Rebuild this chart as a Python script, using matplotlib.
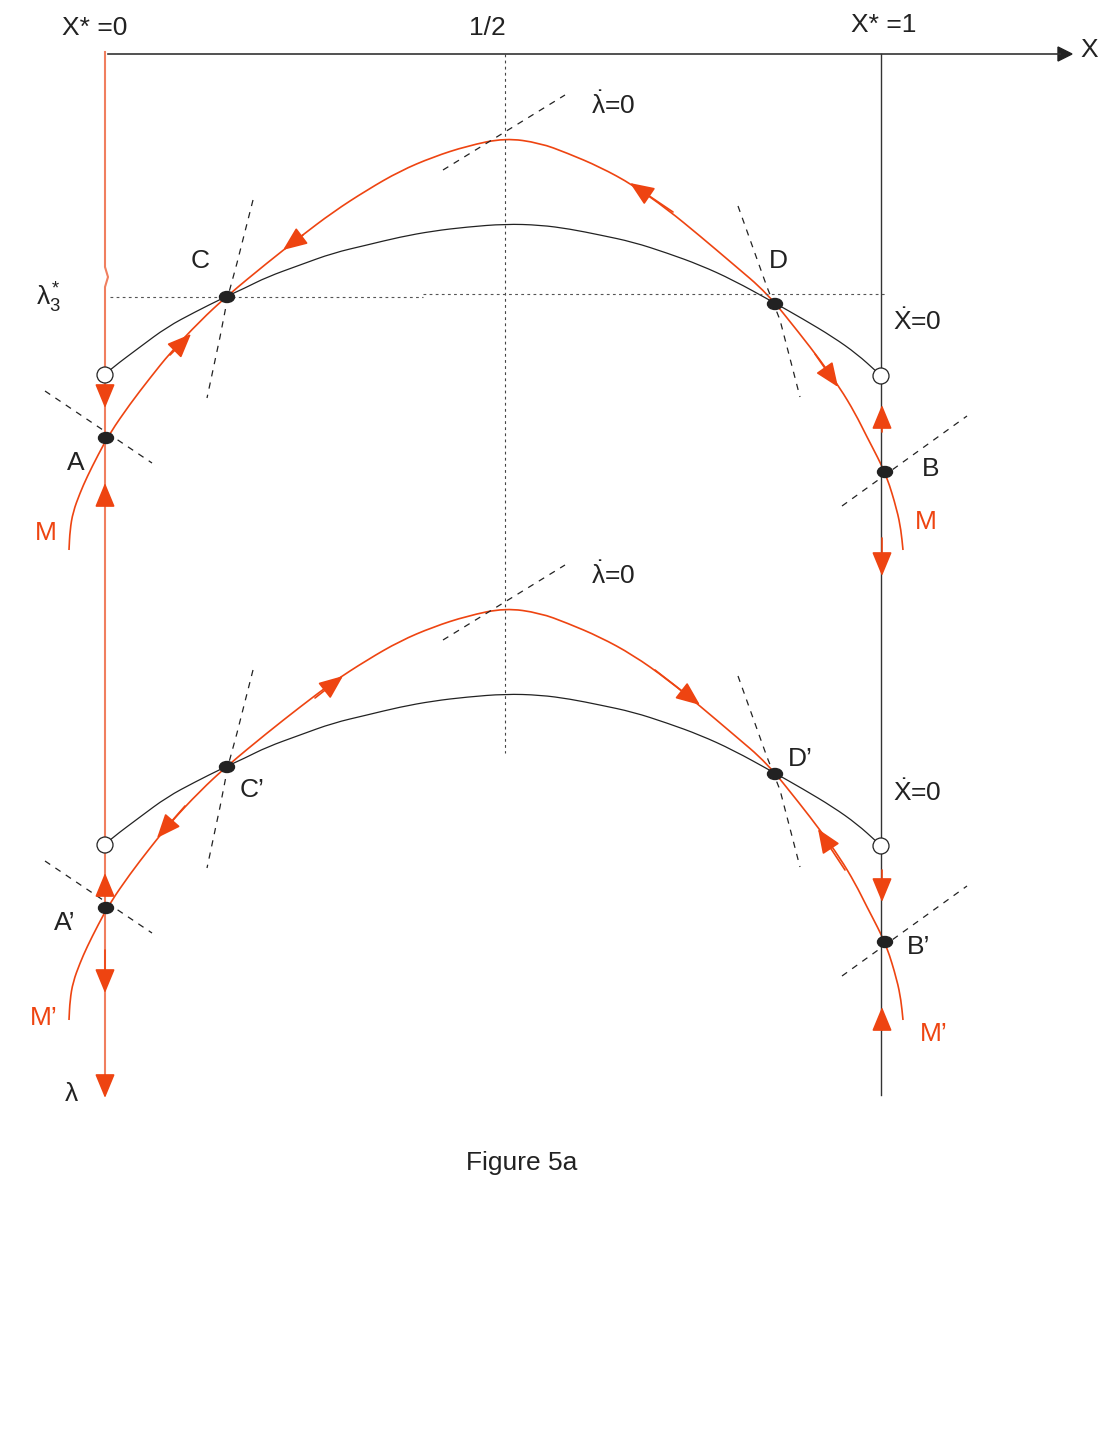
import numpy as np
import matplotlib
matplotlib.use("Agg")
from matplotlib import pyplot as plt
from matplotlib.path import Path
from matplotlib.patches import PathPatch, Ellipse

plt.rcParams['font.family'] = ['Liberation Sans', 'DejaVu Sans']
plt.rcParams['mathtext.fontset'] = 'custom'
plt.rcParams['mathtext.rm'] = 'Liberation Sans'
plt.rcParams['mathtext.it'] = 'Liberation Sans'
plt.rcParams['mathtext.bf'] = 'Liberation Sans:bold'

# drawing units: x along X (X*=0 at 105, 1/2 at 505, X*=1 at 881), y = lambda downward
X0, XH, X1 = 105, 505, 881
AXIS_Y = 54
SHIFT = 470          # lower panel (primed) sits this far below the upper one

# Xdot = 0 isocline (black curve), upper panel
iso_x = [105, 112, 140, 167, 195, 223, 245, 267, 300, 333, 367, 400, 433, 467, 505,
         540, 570, 600, 633, 667, 700, 733, 773, 803, 833, 857, 877, 881]
iso_y = [375, 368, 347, 327, 312, 298, 288, 277, 265, 253, 245, 237, 231, 227, 224,
         225, 229, 235, 242, 253, 265, 280, 302, 319, 337, 354, 372, 376]

# trajectory M (orange), upper panel
traj_x = [69, 70, 73, 80, 87, 98, 110, 130, 150, 170, 200, 227, 267, 300, 333, 367,
          400, 433, 467, 505, 540, 567, 600, 633, 667, 700, 733, 767, 800, 820, 840,
          855, 867, 878, 887, 897, 901, 903]
traj_y = [550, 530, 512, 493, 477, 455, 433, 404, 378, 353, 321, 296, 263, 237, 212,
          190, 171, 157, 146, 138, 143, 153, 167, 185, 209, 236, 264, 293, 334, 360,
          388, 413, 437, 458, 477, 510, 530, 550]

# stable/unstable manifold directions (dashed), upper panel
dash_lines = [
    ([443, 565], [170, 95]),
    ([253, 237, 228, 220, 207], [200, 263, 296, 337, 398]),
    ([738, 767, 780, 800], [206, 287, 320, 397]),
    ([45, 152], [391, 463]),
    ([842, 967], [506, 416]),
]

# equilibria
saddles_up = [(106, 438), (227, 297), (775, 304), (885, 472)]
open_pts = [(X0, 375), (X1, 376)]

# arrow heads (tail -> tip), upper and lower
arrows_up = [((105, 385), (105, 408)), ((105, 505), (105, 483)),
             ((170, 355), (191, 334)), ((303, 235), (283, 250)),
             ((673, 212), (630, 183)), ((815, 354), (838, 387)),
             ((882, 432), (882, 405)), ((882, 538), (882, 576))]
arrows_low = [((105, 895), (105, 873)), ((105, 950), (105, 993)),
              ((105, 1075), (105, 1098)),
              ((185, 806), (157, 838)), ((315, 698), (343, 676)),
              ((655, 670), (700, 705)), ((845, 870), (818, 829)),
              ((882, 870), (882, 902)), ((882, 1030), (882, 1007))]

ORANGE = '#ee4411'
LIGHT_OR = '#f07f5f'
INK = '#222222'


def smooth(ax, xs, ys, **kw):
    pts = np.column_stack([xs, ys]).astype(float)
    verts = [pts[0], (pts[0] + pts[1]) / 2]
    codes = [Path.MOVETO, Path.LINETO]
    for i in range(1, len(pts) - 1):
        verts += [pts[i], (pts[i] + pts[i + 1]) / 2]
        codes += [Path.CURVE3, Path.CURVE3]
    verts.append(pts[-1])
    codes.append(Path.LINETO)
    ax.add_patch(PathPatch(Path(verts, codes), fill=False, **kw))


def arrow(ax, tail, tip):
    ax.annotate('', xy=tip, xytext=tail,
                arrowprops=dict(arrowstyle='-|>,head_length=1.5,head_width=0.62',
                                mutation_scale=10, color=ORANGE, lw=1.2,
                                shrinkA=0, shrinkB=0))


fig = plt.figure(figsize=(11.18, 14.56), dpi=100)
ax = fig.add_axes([0, 0, 1, 1])
ax.set_xlim(0, 1118)
ax.set_ylim(1456, 0)
ax.axis('off')

# axes of the diagram
ax.plot([108, 1060], [AXIS_Y, AXIS_Y], color='#333333', lw=1.2)
ax.fill([1058, 1072, 1058], [AXIS_Y - 7, AXIS_Y, AXIS_Y + 7], color=INK)
ax.plot([X0, X0, X0 + 3, X0, X0], [52, 267, 277, 287, 1080], color=LIGHT_OR, lw=1.5)
ax.plot([X1, X1], [AXIS_Y, 1095], color='#333333', lw=1.0)

# reference dotted lines
ax.plot([XH, XH], [AXIS_Y, 753], color='#444444', lw=0.8, ls=(0, (2.5, 3)))
ax.plot([110, 423], [297, 297], color='#555555', lw=0.8, ls=(0, (2.5, 3)))
ax.plot([423, 885], [294, 294], color='#555555', lw=0.8, ls=(0, (2.5, 3)))

for off in (0, SHIFT):
    smooth(ax, iso_x, np.array(iso_y) + off, color=INK, lw=0.9)
    smooth(ax, traj_x, np.array(traj_y) + off, color=ORANGE, lw=1.2)
    for xs, ys in dash_lines:
        ax.plot(xs, np.array(ys) + off, color=INK, lw=0.9, ls=(0, (5, 5)))
    for (px, py) in saddles_up:
        ax.add_patch(Ellipse((px, py + off), 15, 11, color=INK, zorder=5))
    for (px, py) in open_pts:
        ax.add_patch(Ellipse((px, py + off), 16, 16, facecolor='white',
                             edgecolor=INK, lw=0.9, zorder=5))

for tail, tip in arrows_up + arrows_low:
    arrow(ax, tail, tip)

fs = 19
kw = dict(fontsize=fs, color=INK, ha='left', va='baseline')
ax.text(62, 35, 'X* =0', **kw)
ax.text(469, 35, '1/2', **kw)
ax.text(851, 32, 'X* =1', **kw)
ax.text(1080, 57, 'X', **kw)
ax.text(36, 306, r'$\lambda^{*}_{3}$', **kw)
ax.text(65, 1101, 'λ', **kw)
ax.text(466, 1170, 'Figure 5a', **kw)

for off in (0, SHIFT):
    ax.text(591, 114 + off, r'$\dot{\lambda}$=0', **kw)
    ax.text(893, 330 + off + (1 if off else 0), r'$\dot{\mathrm{X}}$=0', **kw)

ax.text(191, 268, 'C', **kw)
ax.text(769, 268, 'D', **kw)
ax.text(67, 470, 'A', **kw)
ax.text(922, 476, 'B', **kw)
ax.text(240, 797, 'C’', **kw)
ax.text(788, 766, 'D’', **kw)
ax.text(54, 930, 'A’', **kw)
ax.text(907, 954, 'B’', **kw)

okw = dict(kw, color=ORANGE)
ax.text(35, 540, 'M', **okw)
ax.text(915, 529, 'M', **okw)
ax.text(30, 1025, 'M’', **okw)
ax.text(920, 1041, 'M’', **okw)

fig.savefig('out.png', dpi=100, facecolor='white')
